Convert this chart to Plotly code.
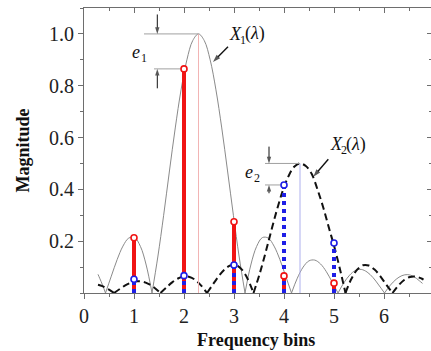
import plotly.graph_objects as go

# ---------------- data ----------------
bins = [1, 2, 3, 4, 5]
x1_bins = [0.213, 0.865, 0.275, 0.066, 0.038]   # |X1| sampled at bins (red)
x2_bins = [0.053, 0.067, 0.108, 0.417, 0.193]   # |X2| sampled at bins (blue)

x1_peak_x, x1_peak_y = 2.29, 1.0
x2_peak_x, x2_peak_y = 4.32, 0.5

# X1(lambda) continuous spectrum, lobe by lobe
x1_lobes_x = [
    [0.28, 0.314, 0.37, 0.43],
    [0.43, 0.546, 0.663, 0.779, 0.895, 1.011, 1.128, 1.244, 1.36],
    [1.36, 1.476, 1.593, 1.709, 1.825, 1.941, 2.058, 2.174, 2.29, 2.406, 2.523,
     2.639, 2.755, 2.871, 2.988, 3.104, 3.22],
    [3.22, 3.336, 3.453, 3.569, 3.685, 3.801, 3.918, 4.034, 4.15],
    [4.15, 4.266, 4.383, 4.499, 4.615, 4.731, 4.848, 4.964, 5.08],
    [5.08, 5.196, 5.313, 5.429, 5.545, 5.661, 5.778, 5.894, 6.01],
    [6.01, 6.126, 6.243, 6.359, 6.475, 6.591, 6.708, 6.77],
]
x1_lobes_y = [
    [0.072, 0.057, 0.031, 0.0],
    [0.0, 0.065, 0.129, 0.181, 0.212, 0.214, 0.180, 0.108, 0.0],
    [0.0, 0.139, 0.300, 0.471, 0.637, 0.784, 0.900, 0.974, 1.0, 0.974, 0.900,
     0.784, 0.637, 0.471, 0.300, 0.139, 0.0],
    [0.0, 0.108, 0.180, 0.214, 0.212, 0.181, 0.129, 0.065, 0.0],
    [0.0, 0.057, 0.100, 0.124, 0.127, 0.112, 0.082, 0.042, 0.0],
    [0.0, 0.039, 0.069, 0.087, 0.091, 0.081, 0.060, 0.031, 0.0],
    [0.0, 0.030, 0.053, 0.067, 0.071, 0.064, 0.047, 0.037],
]

# X2(lambda) continuous spectrum, lobe by lobe
x2_lobes_x = [
    [0.28, 0.368, 0.484, 0.60],
    [0.60, 0.716, 0.833, 0.949, 1.065, 1.181, 1.298, 1.414, 1.53],
    [1.53, 1.646, 1.763, 1.879, 1.995, 2.111, 2.228, 2.344, 2.46],
    [2.46, 2.576, 2.693, 2.809, 2.925, 3.041, 3.158, 3.274, 3.39],
    [3.39, 3.506, 3.623, 3.739, 3.855, 3.971, 4.088, 4.204, 4.32, 4.436, 4.553,
     4.669, 4.785, 4.901, 5.018, 5.134, 5.23],
    [5.23, 5.346, 5.463, 5.579, 5.695, 5.811, 5.928, 6.044, 6.17],
    [6.17, 6.286, 6.403, 6.519, 6.635, 6.751, 6.79],
]
x2_lobes_y = [
    [0.032, 0.0265, 0.015, 0.0],
    [0.0, 0.0155, 0.030, 0.0405, 0.0455, 0.0435, 0.0345, 0.0195, 0.0],
    [0.0, 0.021, 0.041, 0.056, 0.0635, 0.062, 0.050, 0.0285, 0.0],
    [0.0, 0.0325, 0.0645, 0.0905, 0.106, 0.107, 0.090, 0.054, 0.0],
    [0.0, 0.0695, 0.150, 0.2355, 0.3185, 0.392, 0.450, 0.487, 0.5, 0.49, 0.46,
     0.40, 0.33, 0.25, 0.17, 0.08, 0.0],
    [0.0, 0.054, 0.090, 0.107, 0.106, 0.0905, 0.0645, 0.0325, 0.0],
    [0.0, 0.0285, 0.050, 0.062, 0.0635, 0.056, 0.052],
]

x_ticks = [0, 1, 2, 3, 4, 5, 6]
y_ticks = [0.2, 0.4, 0.6, 0.8, 1.0]
y_ticktext = ["0.2", "0.4", "0.6", "0.8", "1.0"]


def join_lobes(lx, ly):
    xs, ys = [], []
    for a, b in zip(lx, ly):
        xs += a + [None]
        ys += b + [None]
    return xs, ys


def stems(xs, vs):
    sx, sy = [], []
    for x, v in zip(xs, vs):
        sx += [x, x, None]
        sy += [0, v, None]
    return sx, sy


FONT = "Liberation Serif"
RED = "#f01414"
BLUE = "#1e1ee6"
INK = "#111111"

fig = go.Figure()

cx1, cy1 = join_lobes(x1_lobes_x, x1_lobes_y)
cx2, cy2 = join_lobes(x2_lobes_x, x2_lobes_y)

fig.add_trace(go.Scatter(x=cx1, y=cy1, mode="lines", connectgaps=False,
                         line=dict(color="#8a8a8a", width=1, shape="spline")))
fig.add_trace(go.Scatter(x=cx2, y=cy2, mode="lines", connectgaps=False,
                         line=dict(color=INK, width=2, shape="spline", dash="7px,4px")))

# peak markers (thin vertical lines)
fig.add_trace(go.Scatter(x=[x1_peak_x, x1_peak_x], y=[0, x1_peak_y], mode="lines",
                         line=dict(color="#f2b4b4", width=1)))
fig.add_trace(go.Scatter(x=[x2_peak_x, x2_peak_x], y=[0, x2_peak_y], mode="lines",
                         line=dict(color="#aeb0ee", width=1)))

# guide lines for e1, e2
fig.add_trace(go.Scatter(x=[1.2, x1_peak_x, None, 1.4, bins[1]],
                         y=[x1_peak_y, x1_peak_y, None, x1_bins[1], x1_bins[1]],
                         mode="lines", line=dict(color="#a0a0a0", width=1)))
fig.add_trace(go.Scatter(x=[3.62, x2_peak_x, None, 3.62, bins[3]],
                         y=[x2_peak_y, x2_peak_y, None, x2_bins[3], x2_bins[3]],
                         mode="lines", line=dict(color="#a0a0a0", width=1)))

# stems
rx, ry = stems(bins, x1_bins)
bx, by = stems(bins, x2_bins)
fig.add_trace(go.Scatter(x=rx, y=ry, mode="lines", line=dict(color=RED, width=4)))
fig.add_trace(go.Scatter(x=bx, y=by, mode="lines", line=dict(color=BLUE, width=4, dash="dot")))
fig.add_trace(go.Scatter(x=bins, y=x1_bins, mode="markers",
                         marker=dict(symbol="circle", size=6, color="white",
                                     line=dict(color=RED, width=1.6))))
fig.add_trace(go.Scatter(x=bins, y=x2_bins, mode="markers",
                         marker=dict(symbol="circle", size=6, color="white",
                                     line=dict(color=BLUE, width=1.6))))


# arrows drawn as line traces with an arrow-head marker at the head point
def arrow(tx, ty, hx, hy, w=1.0, size=7):
    fig.add_trace(go.Scatter(
        x=[tx, hx], y=[ty, hy], mode="lines+markers",
        line=dict(color=INK, width=w),
        marker=dict(symbol=["circle", "arrow"], size=[0, size], color=INK,
                    angleref="previous", line=dict(width=0))))


arrow(1.466, 1.075, 1.466, x1_peak_y)
arrow(1.466, 0.79, 1.466, x1_bins[1])
arrow(3.70, 0.565, 3.70, x2_peak_y)
arrow(3.70, 0.385, 3.70, x2_bins[3])
arrow(2.88, 0.95, 2.58, 0.892, w=1.4, size=8)
arrow(4.886, 0.516, 4.586, 0.449, w=1.4, size=8)

ann = []


def txt(x, y, t, size=18):
    ann.append(dict(x=x, y=y, xref="x", yref="y", text=t, showarrow=False,
                    font=dict(family=FONT, size=size, color=INK),
                    xanchor="left", yanchor="middle", xshift=0, yshift=0))


# e1, e2 (letter + subscript index)
txt(0.92, 0.93, "<i>e</i>")
txt(1.09, 0.908, "1", size=12)
txt(3.18, 0.467, "<i>e</i>")
txt(3.35, 0.445, "2", size=12)
# X1(λ), X2(λ)
txt(2.86, 1.0, "<i>X</i>")
txt(3.07, 0.978, "1", size=12)
txt(3.17, 1.0, "(<i>λ</i>)")
txt(4.88, 0.575, "<i>X</i>")
txt(5.09, 0.553, "2", size=12)
txt(5.19, 0.575, "(<i>λ</i>)")

# axis titles
ann.append(dict(x=0, y=0.5, xref="paper", yref="paper", xshift=-62, text="<b>Magnitude</b>",
                textangle=-90, showarrow=False, xanchor="center", yanchor="middle",
                font=dict(family=FONT, size=18, color=INK)))
ann.append(dict(x=(256 - 84) / 347, y=0, xref="paper", yref="paper", yshift=-47,
                text="<b>Frequency bins</b>", showarrow=False, xanchor="center",
                yanchor="middle", font=dict(family=FONT, size=18, color=INK)))

AX = "#6e6e6e"
XR = [0, 6.94]
YR = [0, 1.1]
fig.update_layout(
    width=431, height=351,
    margin=dict(l=84, r=0, t=8, b=58),
    paper_bgcolor="white", plot_bgcolor="white",
    showlegend=False,
    annotations=ann,
    font=dict(family=FONT, size=20, color="#222222"),
    xaxis=dict(range=XR, showgrid=False, zeroline=False, showline=True, linecolor=AX,
               linewidth=1, ticks="outside", ticklen=5, tickcolor=AX, tickwidth=1,
               tickvals=x_ticks, tickfont=dict(family=FONT, size=20, color="#222222"),
               minor=dict(dtick=0.5, tick0=0, ticks="outside", ticklen=3, tickcolor=AX),
               fixedrange=True),
    xaxis2=dict(range=XR, overlaying="x", side="top", showgrid=False, zeroline=False,
                showline=True, linecolor=AX, linewidth=1, ticks="inside", ticklen=5,
                tickcolor=AX, tickvals=x_ticks, showticklabels=False,
                minor=dict(dtick=0.5, tick0=0, ticks="inside", ticklen=3, tickcolor=AX)),
    yaxis=dict(range=YR, showgrid=False, zeroline=False, showline=True, linecolor=AX,
               linewidth=1, ticks="outside", ticklen=5, tickcolor=AX,
               tickvals=y_ticks, ticktext=y_ticktext,
               tickfont=dict(family=FONT, size=20, color="#222222"),
               minor=dict(dtick=0.1, tick0=0, ticks="outside", ticklen=3, tickcolor=AX)),
    yaxis2=dict(range=YR, overlaying="y", side="right", showgrid=False, zeroline=False,
                showline=False, ticks="inside", ticklen=4, tickcolor=AX,
                tickvals=y_ticks, showticklabels=False,
                minor=dict(dtick=0.1, tick0=0, ticks="inside", ticklen=2, tickcolor=AX)),
)
# dummy trace to activate the mirror axes
fig.add_trace(go.Scatter(x=[None], y=[None], xaxis="x2", yaxis="y2", showlegend=False))

fig.write_html("out.html")
